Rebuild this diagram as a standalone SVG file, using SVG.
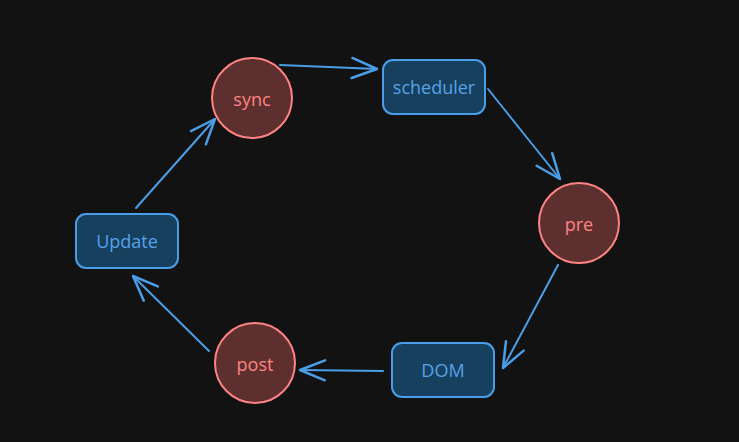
<svg xmlns="http://www.w3.org/2000/svg" width="739" height="442" viewBox="0 0 739 442">
<style>
.c{fill:#5e2f2f;stroke:#ff8383;stroke-width:2}
.r{fill:#17405f;stroke:#4a9ee8;stroke-width:2}
.tc{fill:#ff8383;font-family:"Open Sans",sans-serif;font-size:18px;text-anchor:middle;dominant-baseline:central}
.tr{fill:#56a2e8;font-family:"Open Sans",sans-serif;font-size:18px;text-anchor:middle;dominant-baseline:central}
.e{fill:none;stroke:#4a9ee8;stroke-width:2;stroke-linecap:round;marker-end:url(#a)}
</style>
<defs>
<marker id="a" markerUnits="userSpaceOnUse" markerWidth="30" markerHeight="30" viewBox="-22 -11 24 22" refX="0" refY="0" orient="auto" overflow="visible">
<path d="M-20,-8 L0,0 L-20,8" fill="none" stroke="#4a9ee8" stroke-width="2" stroke-linecap="round" stroke-linejoin="round"/>
</marker>
</defs>
<rect width="739" height="442" fill="#121212"/>
<g id="edges">
<path class="e" d="M280,65 L377,69"/>
<path class="e" d="M488,89 L560,179"/>
<path class="e" d="M558,265 L503,368"/>
<path class="e" d="M383,371 L300,370"/>
<path class="e" d="M209,351 L133,276"/>
<path class="e" d="M136,208 L215,119"/>
</g>
<g id="sync"><circle class="c" cx="252" cy="98" r="40"/><text class="tc" x="252" y="99">sync</text></g>
<g id="scheduler"><rect class="r" x="383" y="60" width="102" height="54" rx="10"/><text class="tr" x="434" y="87">scheduler</text></g>
<g id="pre"><circle class="c" cx="579" cy="223" r="40"/><text class="tc" x="579" y="224">pre</text></g>
<g id="DOM"><rect class="r" x="392" y="343" width="102" height="54" rx="10"/><text class="tr" x="443" y="370">DOM</text></g>
<g id="post"><circle class="c" cx="255" cy="363" r="40"/><text class="tc" x="255" y="364">post</text></g>
<g id="Update"><rect class="r" x="76" y="214" width="102" height="54" rx="10"/><text class="tr" x="127" y="241">Update</text></g>
</svg>
